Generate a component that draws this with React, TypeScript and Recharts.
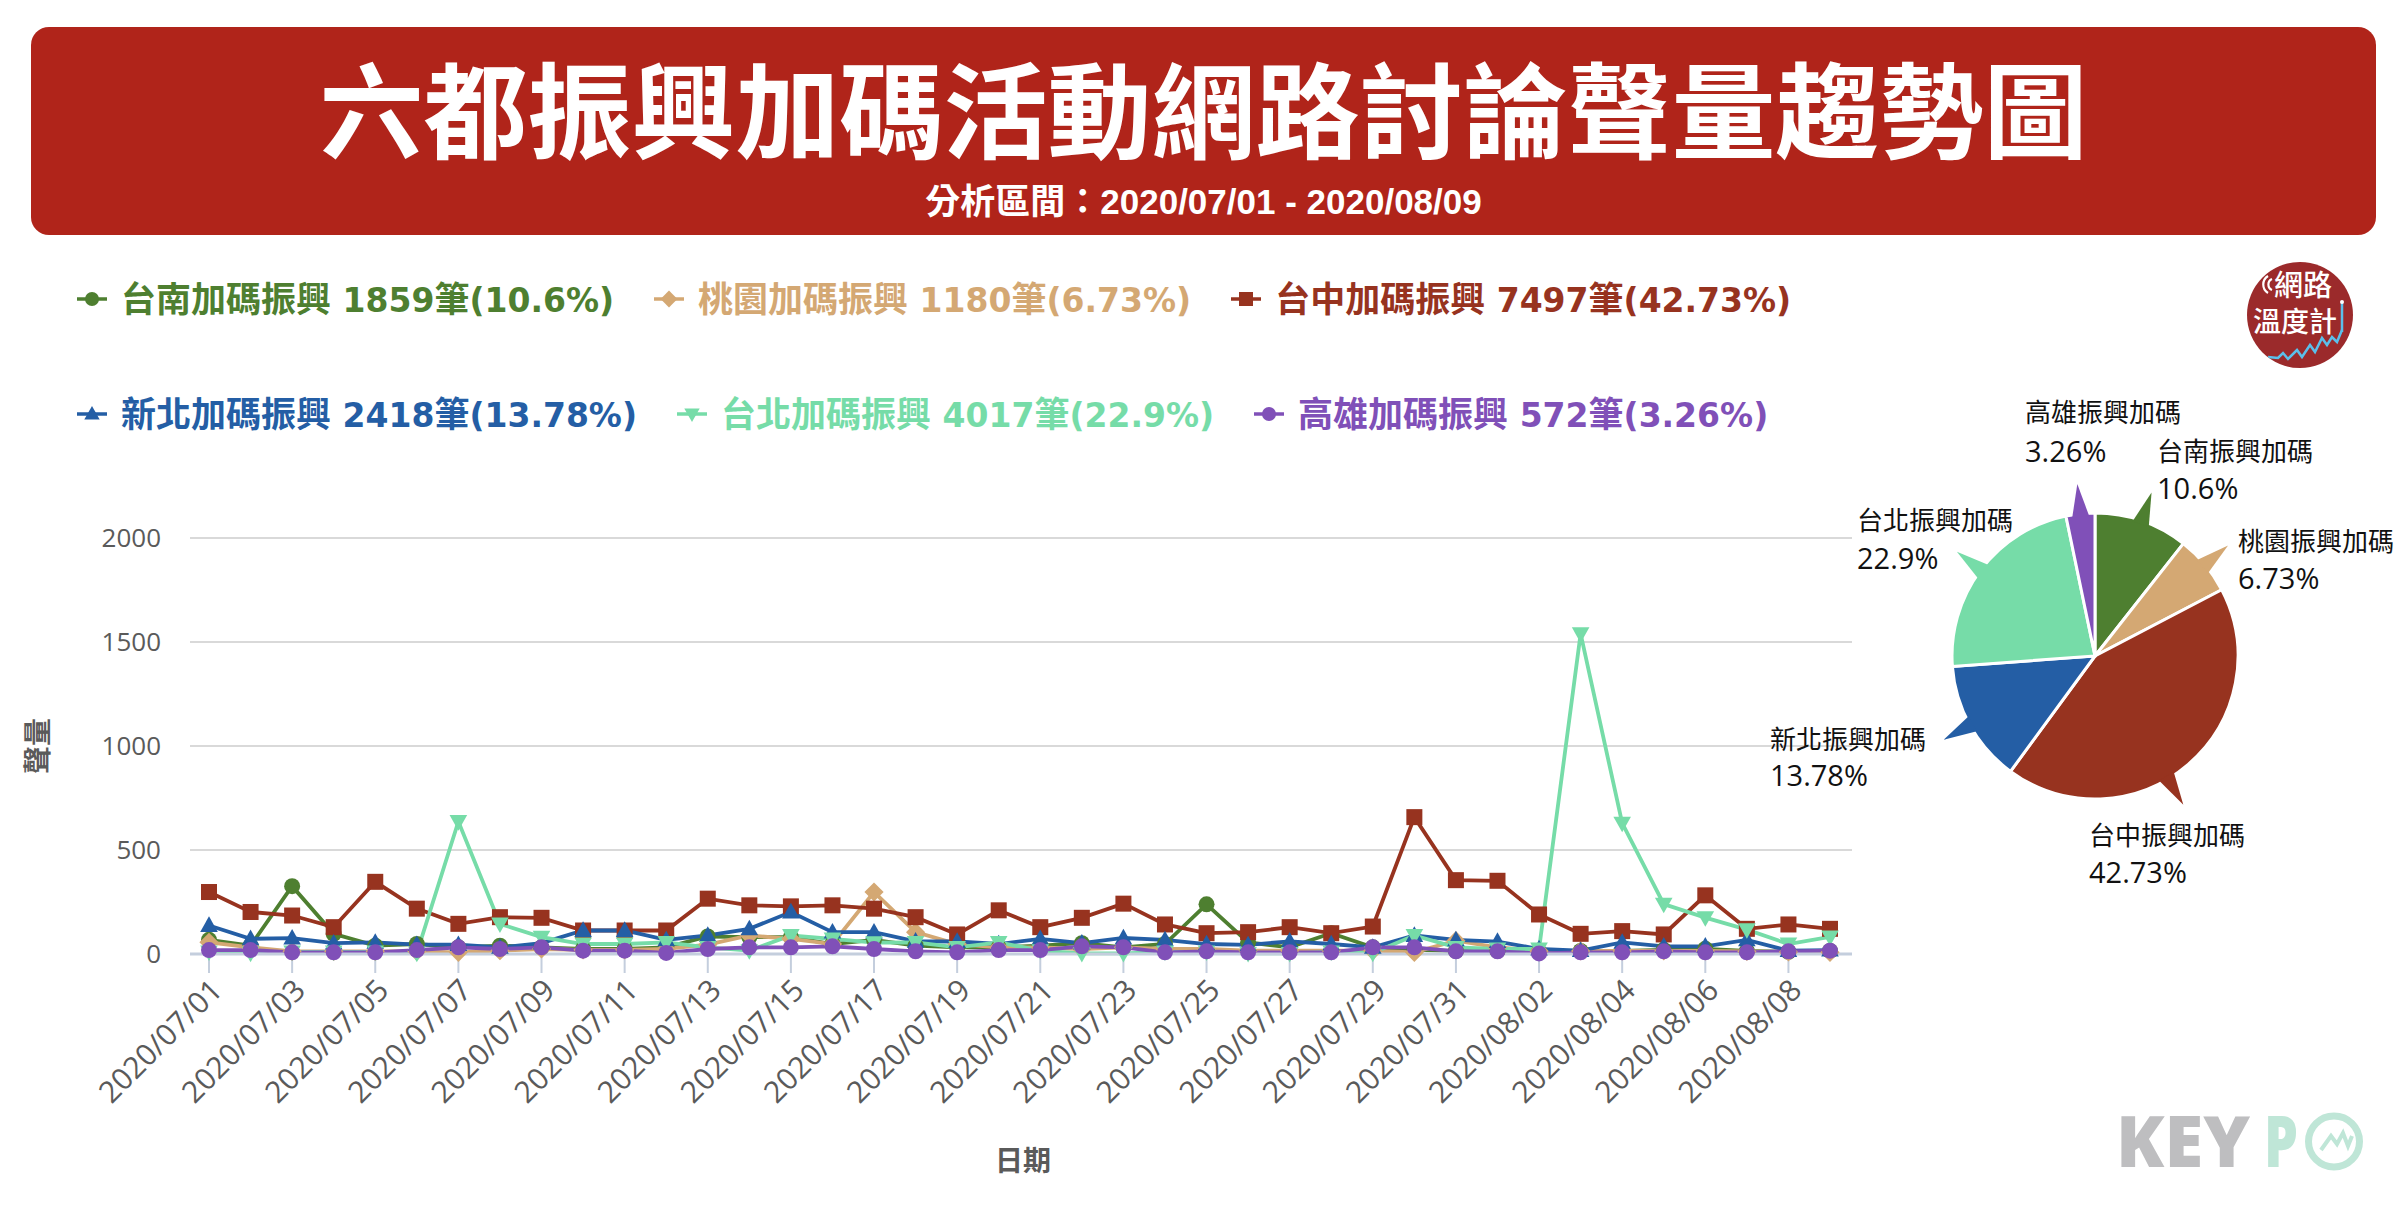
import React from 'react'
import { LineChart, Line, XAxis, YAxis, CartesianGrid, PieChart, Pie, Cell } from 'recharts'

const DATES = [
  '2020/07/01', '2020/07/02', '2020/07/03', '2020/07/04', '2020/07/05', '2020/07/06', '2020/07/07',
  '2020/07/08', '2020/07/09', '2020/07/10', '2020/07/11', '2020/07/12', '2020/07/13', '2020/07/14',
  '2020/07/15', '2020/07/16', '2020/07/17', '2020/07/18', '2020/07/19', '2020/07/20', '2020/07/21',
  '2020/07/22', '2020/07/23', '2020/07/24', '2020/07/25', '2020/07/26', '2020/07/27', '2020/07/28',
  '2020/07/29', '2020/07/30', '2020/07/31', '2020/08/01', '2020/08/02', '2020/08/03', '2020/08/04',
  '2020/08/05', '2020/08/06', '2020/08/07', '2020/08/08', '2020/08/09',
]

// daily volumes
const TAINAN = [68, 40, 326, 97, 40, 48, 32, 40, 32, 24, 24, 32, 84, 81, 81, 48, 68, 40, 32, 32, 40, 52, 32, 48, 239, 56, 32, 100, 32, 20, 15, 15, 10, 15, 15, 20, 25, 15, 10, 15]
const TAOYUAN = [56, 32, 13, 13, 13, 13, 8, 16, 24, 20, 20, 25, 45, 89, 73, 48, 298, 105, 48, 32, 32, 24, 32, 24, 24, 16, 16, 16, 16, 8, 64, 32, 15, 15, 15, 15, 15, 12, 10, 8]
const TAICHUNG = [298, 202, 185, 129, 347, 218, 145, 177, 174, 113, 113, 113, 266, 234, 229, 234, 218, 177, 94, 210, 129, 174, 242, 142, 100, 105, 129, 100, 132, 658, 355, 352, 190, 97, 110, 94, 282, 121, 142, 121]
const NEWTAIPEI = [137, 73, 76, 52, 56, 45, 45, 32, 52, 113, 113, 68, 89, 121, 202, 105, 105, 61, 60, 48, 73, 52, 77, 68, 48, 44, 61, 48, 32, 89, 68, 60, 24, 16, 56, 37, 37, 68, 16, 19]
const TAIPEI = [10, 5, 10, 10, 10, 5, 637, 145, 81, 48, 48, 56, 32, 16, 89, 73, 55, 56, 32, 56, 16, 3, 3, 10, 10, 3, 3, 10, 5, 89, 32, 24, 24, 1540, 629, 240, 175, 117, 48, 82]
const KAOHSIUNG = [19, 19, 8, 8, 8, 19, 32, 24, 32, 16, 16, 5, 24, 32, 32, 37, 24, 13, 8, 19, 19, 37, 32, 8, 13, 8, 8, 8, 32, 32, 13, 13, 3, 8, 8, 13, 8, 8, 13, 16]

const SERIES_KEYS = ['tainan', 'taoyuan', 'taichung', 'newtaipei', 'taipei', 'kaohsiung']
const SERIES_NAMES = ['台南加碼振興', '桃園加碼振興', '台中加碼振興', '新北加碼振興', '台北加碼振興', '高雄加碼振興']
const SERIES_TOTALS = [1859, 1180, 7497, 2418, 4017, 572]
const SERIES_SHARES = ['10.6%', '6.73%', '42.73%', '13.78%', '22.9%', '3.26%']
const SERIES_VALUES = [TAINAN, TAOYUAN, TAICHUNG, NEWTAIPEI, TAIPEI, KAOHSIUNG]

const PIE_NAMES = ['台南振興加碼', '桃園振興加碼', '台中振興加碼', '新北振興加碼', '台北振興加碼', '高雄振興加碼']
const PIE_SHARES = [10.6, 6.73, 42.73, 13.78, 22.9, 3.26]

const Y_TICKS = [0, 500, 1000, 1500, 2000]

const COLORS = ['#4E7F30', '#D4A873', '#97331F', '#245EA5', '#76DCA8', '#8050B8']
const SHAPES = ['circle', 'diamond', 'square', 'triangle', 'triangle-down', 'circle']

const CJK = "'Noto Sans CJK TC', sans-serif"
const LATIN = "'Open Sans', 'Noto Sans CJK TC', sans-serif"
const WIDE = "'DejaVu Sans', 'Noto Sans CJK TC', sans-serif"
// Liberation Sans first keeps the heading line boxes compact; CJK glyphs fall back to Noto
const HEAD = "'Liberation Sans', 'Noto Sans CJK TC', sans-serif"
const AXIS_GREY = '#5a5a5a'

const chartData = DATES.map((date, i) => {
  const row: Record<string, any> = { date }
  SERIES_KEYS.forEach((k, s) => {
    row[k] = SERIES_VALUES[s][i]
  })
  return row
})

const pieData = PIE_NAMES.map((name, i) => ({ name, value: PIE_SHARES[i] }))

// label text offsets from the pie centre: [x, name y, percent y]
const LABEL_POS: Record<string, number[]> = {
  台南振興加碼: [62, -207, -169],
  桃園振興加碼: [143, -117, -79],
  台中振興加碼: [-6, 177, 215],
  新北振興加碼: [-325, 81, 118],
  台北振興加碼: [-238, -138, -99],
  高雄振興加碼: [-70, -246, -206],
}
const SPIKE_SHIFT: Record<string, number> = { 台中振興加碼: -10 }

function marker(shape: string, cx: number, cy: number, color: string, size: number, key?: string) {
  const h = size / 2
  switch (shape) {
    case 'square':
      return <rect key={key} x={cx - h} y={cy - h} width={size} height={size} fill={color} />
    case 'diamond': {
      const d = h * 1.2
      return <polygon key={key} points={`${cx},${cy - d} ${cx + d},${cy} ${cx},${cy + d} ${cx - d},${cy}`} fill={color} />
    }
    case 'triangle':
      return <polygon key={key} points={`${cx},${cy - h * 1.15} ${cx + h * 1.1},${cy + h * 0.8} ${cx - h * 1.1},${cy + h * 0.8}`} fill={color} />
    case 'triangle-down':
      return <polygon key={key} points={`${cx},${cy + h * 1.15} ${cx + h * 1.1},${cy - h * 0.8} ${cx - h * 1.1},${cy - h * 0.8}`} fill={color} />
    default:
      return <circle key={key} cx={cx} cy={cy} r={h} fill={color} />
  }
}

const RAD = Math.PI / 180

function renderPieLabel(props: any) {
  const { cx, cy, midAngle, outerRadius } = props
  const name = props.name ?? props.payload?.name
  const i = PIE_NAMES.indexOf(name)
  const color = COLORS[i]
  const a = midAngle + (SPIKE_SHIFT[name] || 0)
  const pt = (ang: number, r: number) => [cx + r * Math.cos(-ang * RAD), cy + r * Math.sin(-ang * RAD)]
  const [ax, ay] = pt(a, outerRadius + 30)
  const [b1x, b1y] = pt(a - 3.5, outerRadius - 3)
  const [b2x, b2y] = pt(a + 3.5, outerRadius - 3)
  const [dx, ny, py] = LABEL_POS[name]
  return (
    <g key={`lbl-${name}`}>
      <polygon points={`${b1x},${b1y} ${ax},${ay} ${b2x},${b2y}`} fill={color} />
      <text x={cx + dx} y={cy + ny} dominantBaseline="central" fontSize={26} fontFamily={CJK} fill="#111">
        {name}
      </text>
      <text x={cx + dx} y={cy + py} dominantBaseline="central" fontSize={29} fontFamily={LATIN} fill="#111">
        {PIE_SHARES[i]}%
      </text>
    </g>
  )
}

function LegendItem({ i }: { i: number }) {
  const latin = { fontFamily: WIDE, fontSize: 33 }
  return (
    <div style={{ display: 'flex', alignItems: 'center' }}>
      <svg width={30} height={24} style={{ overflow: 'visible' }}>
        <line x1={0} y1={12} x2={30} y2={12} stroke={COLORS[i]} strokeWidth={3.5} />
        {marker(SHAPES[i], 15, 12, COLORS[i], 14)}
      </svg>
      <span
        style={{
          marginLeft: 14,
          color: COLORS[i],
          fontSize: 35,
          fontWeight: 700,
          fontFamily: CJK,
          whiteSpace: 'nowrap',
          lineHeight: '48px',
        }}
      >
        {SERIES_NAMES[i]}
        <span style={latin}> {SERIES_TOTALS[i]}</span>筆<span style={latin}>({SERIES_SHARES[i]})</span>
      </span>
    </div>
  )
}

export default function App() {
  return (
    <div style={{ position: 'absolute', left: 0, top: 0, width: 2407, height: 1206, background: '#fff', overflow: 'hidden' }}>
      {/* title banner */}
      <div
        style={{
          position: 'absolute',
          left: 31,
          top: 27,
          width: 2345,
          height: 208,
          borderRadius: 18,
          background: '#B0241A',
          color: '#fff',
          fontFamily: HEAD,
          textAlign: 'center',
        }}
      >
        <div style={{ position: 'absolute', left: 0, right: 0, top: 35.5, fontSize: 104, lineHeight: '104px', fontWeight: 700 }}>
          六都振興加碼活動網路討論聲量趨勢圖
        </div>
        <div style={{ position: 'absolute', left: 0, right: 0, top: 157, fontSize: 35, lineHeight: '36px', fontWeight: 700 }}>
          分析區間：2020/07/01 - 2020/08/09
        </div>
      </div>

      {/* legend */}
      <div style={{ position: 'absolute', left: 77, top: 273, display: 'flex', gap: 40 }}>
        {[0, 1, 2].map((i) => <LegendItem key={i} i={i} />)}
      </div>
      <div style={{ position: 'absolute', left: 77, top: 388, display: 'flex', gap: 40 }}>
        {[3, 4, 5].map((i) => <LegendItem key={i} i={i} />)}
      </div>

      {/* trend lines */}
      <div style={{ position: 'absolute', left: 0, top: 480 }}>
        <LineChart width={1880} height={720} data={chartData} margin={{ top: 58, right: 28, left: 0, bottom: 0 }}>
          <CartesianGrid vertical={false} stroke="#D9D9D9" strokeWidth={2} />
          <XAxis
            dataKey="date"
            interval={1}
            angle={-45}
            textAnchor="end"
            height={246}
            padding={{ left: 19, right: 22 }}
            tickSize={19}
            tickMargin={4}
            axisLine={{ stroke: '#C4CEDD', strokeWidth: 3 }}
            tickLine={{ stroke: '#C4CEDD', strokeWidth: 2 }}
            tick={{ fontSize: 30, fill: AXIS_GREY, fontFamily: LATIN }}
          />
          <YAxis
            width={190}
            domain={[0, 2000]}
            ticks={Y_TICKS}
            axisLine={false}
            tickLine={false}
            tickSize={0}
            tickMargin={29}
            tick={{ fontSize: 26, fill: AXIS_GREY, fontFamily: LATIN }}
          />
          {SERIES_KEYS.map((k, s) => (
            <Line
              key={k}
              type="linear"
              dataKey={k}
              name={SERIES_NAMES[s]}
              stroke={COLORS[s]}
              strokeWidth={3.8}
              dot={(p: any) => marker(SHAPES[s], p.cx, p.cy, COLORS[s], 16, `${k}-${p.index}`)}
              activeDot={false}
              isAnimationActive={false}
            />
          ))}
        </LineChart>
      </div>

      {/* axis titles */}
      <div
        style={{
          position: 'absolute',
          left: 36,
          top: 746,
          transform: 'translate(-50%, -50%) rotate(-90deg)',
          fontSize: 28,
          fontWeight: 700,
          color: AXIS_GREY,
          fontFamily: CJK,
          whiteSpace: 'nowrap',
        }}
      >
        聲量
      </div>
      <div
        style={{
          position: 'absolute',
          left: 1023,
          top: 1159,
          transform: 'translate(-50%, -50%)',
          fontSize: 28,
          fontWeight: 700,
          color: AXIS_GREY,
          fontFamily: CJK,
          whiteSpace: 'nowrap',
        }}
      >
        日期
      </div>

      {/* share pie */}
      <div style={{ position: 'absolute', left: 1760, top: 380 }}>
        <PieChart width={647} height={560} margin={{ top: 0, right: 0, bottom: 0, left: 0 }}>
          <Pie
            data={pieData}
            dataKey="value"
            nameKey="name"
            cx={335}
            cy={276}
            outerRadius={143}
            startAngle={90}
            endAngle={-270}
            stroke="#fff"
            strokeWidth={3}
            labelLine={false}
            label={renderPieLabel}
            isAnimationActive={false}
          >
            {pieData.map((d, i) => (
              <Cell key={d.name} fill={COLORS[i]} />
            ))}
          </Pie>
        </PieChart>
      </div>

      {/* 網路溫度計 badge */}
      <svg style={{ position: 'absolute', left: 2240, top: 250 }} width={124} height={130}>
        <defs>
          <clipPath id="badgeClip">
            <circle cx={60} cy={65} r={53} />
          </clipPath>
        </defs>
        <circle cx={60} cy={65} r={53} fill="#9B2A2B" />
        <g fill="none" stroke="#fff" strokeWidth={2.2}>
          <path d="M 32 29 A 6 6 0 0 0 32 40" />
          <path d="M 28 26 A 10 10 0 0 0 28 43" />
        </g>
        <text x={63} y={33} textAnchor="middle" dominantBaseline="central" fontSize={29} fontWeight={500} fill="#fff" fontFamily={CJK}>
          網路
        </text>
        <text x={55} y={70} textAnchor="middle" dominantBaseline="central" fontSize={28} fontWeight={500} fill="#fff" fontFamily={CJK}>
          溫度計
        </text>
        <g clipPath="url(#badgeClip)" fill="none" stroke="#5BBFEA" strokeWidth={2.5}>
          <polyline points="28,107 38,108 43,103 48,109 57,100 62,107 70,95 75,102 82,88 87,95 92,87 97,92 102,80" />
          <line x1={102} y1={53} x2={102} y2={82} />
          <circle cx={102} cy={52} r={2} fill="#fff" stroke="none" />
        </g>
      </svg>

      {/* KEYPO mark */}
      <svg style={{ position: 'absolute', left: 2100, top: 1080 }} width={300} height={120}>
        <text x={16} y={87} fontSize={70} fontWeight={800} fill="#BEBEC0" fontFamily={LATIN} textLength={134} lengthAdjust="spacingAndGlyphs">
          KEY
        </text>
        <text x={164} y={87} fontSize={70} fontWeight={800} fill="#BFE6D7" fontFamily={LATIN} textLength={34} lengthAdjust="spacingAndGlyphs">
          P
        </text>
        <circle cx={234} cy={61.5} r={25.5} fill="none" stroke="#BFE6D7" strokeWidth={7} />
        <polyline points="221,70 231,56 237,64 243,53 248,66 252,56" fill="none" stroke="#BFE6D7" strokeWidth={4} />
      </svg>
    </div>
  )
}
